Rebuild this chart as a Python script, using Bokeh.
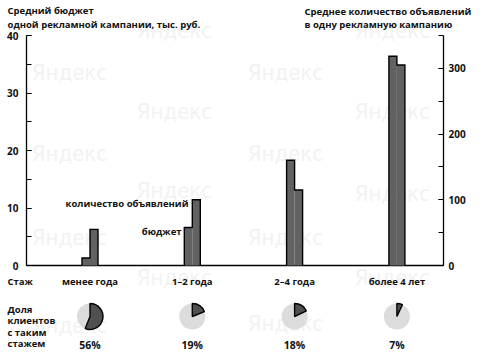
import math
from bokeh.plotting import figure
from bokeh.models import Range1d, LinearAxis, SingleIntervalTicker, Label
from bokeh.embed import file_html
from bokeh.resources import INLINE
from bokeh.core.properties import value

# ---------------- data ----------------
categories = ["менее года", "1–2 года", "2–4 года", "более 4 лет"]
budget = [1.3, 6.6, 18.3, 36.4]          # средний бюджет, тыс. руб.
ads_count = [55, 100, 115, 305]          # среднее количество объявлений
client_share = [56, 19, 18, 7]           # доля клиентов, %
share_labels = ["56%", "19%", "18%", "7%"]
left_max = 40
right_max = 350

# ---------------- layout ----------------
W, H = 482, 359
PXU = 5.75                     # px per budget unit
CAT_STEP = 102.3               # px per category
ZERO_Y = 265                   # pixel row of the zero line
AX_L, AX_R = 26, 443           # pixel columns of the two axes
x_start = -89.5 / CAT_STEP
x_end = x_start + W / CAT_STEP
y_top = ZERO_Y / PXU
y_bottom = (ZERO_Y - H) / PXU
scale_ratio = right_max / left_max


def dx(px):
    return x_start + px / CAT_STEP


def dy(py):
    return (ZERO_Y - py) / PXU


FONT = "Open Sans"
FS = "9.5px"
FSTYLE = "bold"
TXT = "#111111"

p = figure(width=W, height=H, output_backend="svg", toolbar_location=None,
           x_range=Range1d(x_start, x_end), y_range=Range1d(y_bottom, y_top),
           x_axis_location=None, y_axis_location=None,
           min_border_left=0, min_border_right=0, min_border_top=0, min_border_bottom=0)
p.extra_y_ranges = {"count": Range1d(y_bottom * scale_ratio, y_top * scale_ratio)}
p.outline_line_color = None
p.grid.visible = False
p.background_fill_color = "white"
p.border_fill_color = "white"

# watermark
wm_pos = [(69, 72), (69, 153), (69, 237), (69, 325), (285, 72), (285, 153), (285, 237), (285, 323),
          (174, 30), (174, 111), (174, 190), (174, 277), (392, 30), (392, 111), (392, 193), (392, 277)]
for (wx, wy) in wm_pos:
    p.add_layout(Label(x=dx(wx), y=dy(wy), text="Яндекс", text_align="center", text_baseline="middle",
                       text_font="DejaVu Sans Condensed", text_font_size="22px",
                       text_color="#f2f2f2", level="underlay"))

# axes
ax_l = LinearAxis(ticker=SingleIntervalTicker(interval=10, num_minor_ticks=2), bounds=(0, left_max),
                  fixed_location=dx(AX_L))
ax_r = LinearAxis(y_range_name="count", ticker=SingleIntervalTicker(interval=100, num_minor_ticks=2),
                  bounds=(0, right_max), fixed_location=dx(AX_R))
for ax in (ax_l, ax_r):
    ax.axis_line_color = "black"
    ax.axis_line_width = 1.3
    ax.major_tick_in = 5
    ax.major_tick_out = 0
    ax.minor_tick_in = 5
    ax.minor_tick_out = 0
    ax.major_tick_line_color = "black"
    ax.minor_tick_line_color = "black"
    ax.major_tick_line_width = 1.2
    ax.minor_tick_line_width = 1.2
    ax.major_label_text_font = FONT
    ax.major_label_text_font_size = "10px"
    ax.major_label_text_font_style = FSTYLE
    ax.major_label_text_color = TXT
ax_l.major_label_standoff = 8
ax_r.major_label_standoff = 5
p.add_layout(ax_l, "left")
p.add_layout(ax_r, "right")

# baseline between the axes
p.segment(x0=[dx(AX_L)], x1=[dx(AX_R)], y0=[0], y1=[0], line_color="black", line_width=1.3)

# bars
idx = list(range(len(categories)))
bw = 8 / CAT_STEP
BAR = "#626262"
p.quad(left=[i - bw for i in idx], right=idx, bottom=0, top=budget,
       fill_color=BAR, line_color=None)
p.quad(left=idx, right=[i + bw for i in idx], bottom=0, top=ads_count,
       fill_color=BAR, line_color=None, y_range_name="count")
xs, ys = [], []
for i, b, c in zip(idx, budget, ads_count):
    c2 = c / scale_ratio
    xs.append([i - bw, i - bw, i, i, i + bw, i + bw])
    ys.append([0, b, b, c2, c2, 0])
p.multi_line(xs, ys, line_color="black", line_width=1.4, line_join="miter")

# annotation labels
txt_kw = dict(text_baseline="middle", text_font=value(FONT), text_font_size=FS,
              text_font_style=FSTYLE, text_color=TXT)
p.text(x=[dx(188)], y=[dy(203)], text=["количество объявлений"], text_align="right", **txt_kw)
p.text(x=[dx(181)], y=[dy(231)], text=["бюджет"], text_align="right", **txt_kw)

# category labels
p.text(x=idx, y=dy(281), text=categories, text_align="center", **txt_kw)

# pies
pie_y = dy(316)
p.scatter(x=idx, y=pie_y, size=26, marker="circle", fill_color="#dcdcdc", line_color=None)
p.wedge(x=idx, y=pie_y, radius=13, radius_units="screen",
        start_angle=[math.pi / 2 - s / 100 * 2 * math.pi for s in client_share],
        end_angle=math.pi / 2, fill_color="#505050", line_color="black", line_width=1.4)
p.text(x=idx, y=dy(344), text=share_labels, text_align="center",
       text_baseline="middle", text_font=value(FONT), text_font_size="10.5px",
       text_font_style=FSTYLE, text_color=TXT)


# side and title texts
def lab(px, py, t, align="left"):
    p.add_layout(Label(x=dx(px), y=dy(py), text=t, text_align=align, text_baseline="middle",
                       text_font=FONT, text_font_size=FS, text_font_style=FSTYLE, text_color=TXT))


lab(7, 10, "Средний бюджет")
lab(7, 24, "одной рекламной кампании, тыс. руб.")
lab(304, 11, "Среднее количество объявлений")
lab(304, 24, "в одну рекламную кампанию")
lab(7, 281, "Стаж")
for k, t in enumerate(["Доля", "клиентов", "с таким", "стажем"]):
    lab(7, 309 + k * 11.3, t)

open("out.html", "w").write(file_html(p, INLINE))
